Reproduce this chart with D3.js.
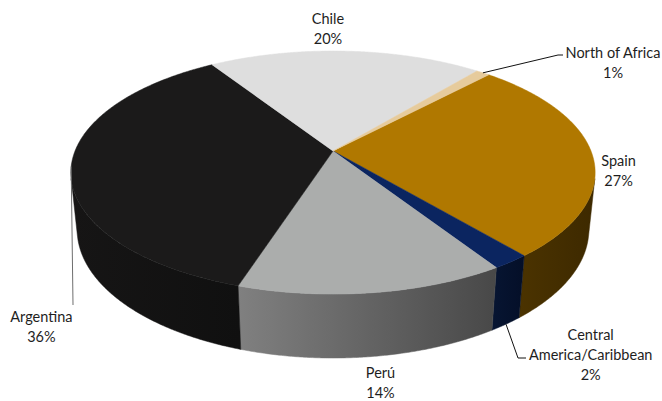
<!DOCTYPE html>
<html><head><meta charset="utf-8">
<script src="https://cdn.jsdelivr.net/npm/d3@7/dist/d3.min.js"></script>
<style>body{margin:0;background:#fff}svg{display:block}</style>
</head><body>
<svg id="chart" width="662" height="401"></svg>
<script>
// ---- data ----
const categories = ["Spain", "Central America/Caribbean", "Perú", "Argentina", "Chile", "North of Africa"];
const values = [27, 2, 14, 36, 20, 1];
const labelLines = [["Spain"], ["Central", "America/Caribbean"], ["Perú"], ["Argentina"], ["Chile"], ["North of Africa"]];

// ---- styles / layout ----
const topColors = ["#b07800", "#0b2560", "#abadac", "#1b1a1a", "#dedede", "#e6cb9c"];
const sideColors = [["#4b3300", "#3d2900"], ["#071532", "#040f28"], ["#808080", "#484848"], ["#161515", "#101010"], ["#9a9a9a", "#8a8a8a"], ["#a08c6a", "#8c7a5c"]];
const labelPos = [[618.6, 160], [590.7, 334], [380.5, 372.5], [41.4, 316.7], [328, 18.4], [613, 52]];
const leaderBends = [null, [[518, 358], [526, 358]], null, [[73, 305]], null, [[558, 55], [563, 55]]];
const leaderAnchor = ["", "bottom", "", "top", "", "top"];
const lineH = 20;

const cx = 333, cy = 151, Sx = 258, Sy = 253.7, D = 5, depth = 0.256;
const phi = 27.65 * Math.PI / 180;
const startDeg = 43;

const svg = d3.select("#chart");
const defs = svg.append("defs");

function proj(theta, r, z) {
  const X = r * Math.sin(theta), Y = r * Math.cos(theta);
  const u = Y * Math.sin(phi) + z * Math.cos(phi);
  const d = Y * Math.cos(phi) - z * Math.sin(phi);
  const s = D / (D + d);
  return [cx + Sx * X * s, cy - Sy * u * s];
}
function arcPts(a0, a1, z) {
  const n = Math.max(2, Math.ceil(Math.abs(a1 - a0) / (0.4 * Math.PI / 180)));
  return d3.range(n + 1).map(i => proj(a0 + (a1 - a0) * i / n, 1, z));
}

const total = d3.sum(values);
const start = startDeg * Math.PI / 180;
const pie = d3.pie().sort(null).value(d => d).startAngle(start).endAngle(start + 2 * Math.PI);
const arcs = pie(values);
const line = d3.line();

// front-facing wall range
const wc = Math.acos(-1 / (D * Math.cos(phi)));
const wMin = wc, wMax = 2 * Math.PI - wc;

// walls
const gWalls = svg.append("g");
arcs.forEach((a, i) => {
  const a0 = Math.max(a.startAngle, wMin), a1 = Math.min(a.endAngle, wMax);
  if (a1 <= a0) return;
  const top = arcPts(a0, a1, 0), bot = arcPts(a1, a0, -depth);
  const gid = "side" + i;
  const lg = defs.append("linearGradient").attr("id", gid).attr("x1", 0).attr("x2", 1).attr("y1", 0).attr("y2", 0);
  lg.append("stop").attr("offset", 0).attr("stop-color", sideColors[i][0]);
  lg.append("stop").attr("offset", 1).attr("stop-color", sideColors[i][1]);
  gWalls.append("path").attr("d", line(top.concat(bot)) + "Z")
    .attr("fill", `url(#${gid})`).attr("stroke", `url(#${gid})`).attr("stroke-width", 0.5);
});

// top faces
const gTop = svg.append("g");
arcs.forEach((a, i) => {
  const pts = [proj(0, 0, 0)].concat(arcPts(a.startAngle, a.endAngle, 0));
  gTop.append("path").attr("d", line(pts) + "Z")
    .attr("fill", topColors[i]).attr("stroke", topColors[i]).attr("stroke-width", 0.5).attr("stroke-linejoin", "round");
});

// leader lines
const gLines = svg.append("g");
arcs.forEach((a, i) => {
  if (!leaderBends[i]) return;
  const mid = (a.startAngle + a.endAngle) / 2;
  const anc = proj(mid, 1, leaderAnchor[i] === "bottom" ? -depth : 0);
  const pts = [anc].concat(leaderBends[i]);
  gLines.append("path").attr("d", line(pts)).attr("fill", "none")
    .attr("stroke", i === 3 ? "#6e6e6e" : "#111").attr("stroke-width", 1);
});

// labels
const gLab = svg.append("g").attr("font-family", "Lato, 'Noto Sans', sans-serif").attr("font-size", "14.5px").attr("fill", "#1e1e1e");
arcs.forEach((a, i) => {
  const lines = labelLines[i].concat([Math.round(values[i] / total * 100) + "%"]);
  const t = gLab.append("text").attr("text-anchor", "middle");
  lines.forEach((s, k) => {
    t.append("tspan").attr("x", labelPos[i][0]).attr("y", labelPos[i][1] + k * lineH)
      .attr("dominant-baseline", "central").text(s);
  });
});
</script>
</body></html>
